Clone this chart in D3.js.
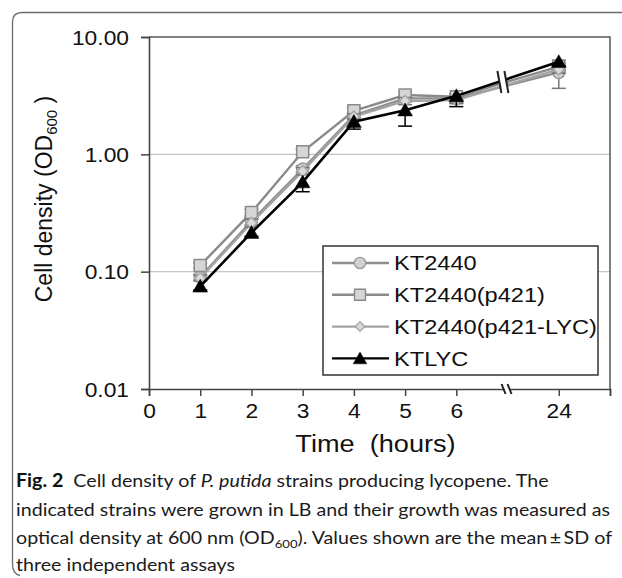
<!DOCTYPE html>
<html><head><meta charset="utf-8">
<script src="https://cdn.jsdelivr.net/npm/d3@7"></script>
<style>body{margin:0;background:#fff} svg{display:block}</style>
</head><body>
<svg id="c" width="622" height="578"></svg>
<script>
// ---------- data ----------
const times = [1, 2, 3, 4, 5, 6, 24];
const tickTimes = [0, 1, 2, 3, 4, 5, 6, 24];
const tickLabels = ["0", "1", "2", "3", "4", "5", "6", "24"];
const axisSlots = [0, 1, 2, 3, 4, 5, 6, 8];   // broken time axis: 24 h sits in slot 8
const seriesNames = ["KT2440", "KT2440(p421)", "KT2440(p421-LYC)", "KTLYC"];
const kt2440      = [0.090, 0.27, 0.75, 2.15, 3.00, 3.00, 5.00];
const kt2440Sd    = [0.005, 0.02, 0.05, 0.12, 0.20, 0.25, 1.35];
const p421        = [0.113, 0.32, 1.05, 2.35, 3.20, 3.10, 5.60];
const p421Sd      = [0.006, 0.02, 0.06, 0.15, 0.20, 0.20, 0.40];
const p421lyc     = [0.088, 0.26, 0.72, 2.10, 2.85, 2.90, 5.30];
const p421lycSd   = [0.005, 0.02, 0.05, 0.12, 0.20, 0.20, 0.40];
const ktlyc       = [0.075, 0.215, 0.58, 1.90, 2.38, 3.15, 6.15];
const ktlycSd     = [0.005, 0.015, 0.10, 0.26, 0.64, 0.60, 0.45];
const yTicks = [0.01, 0.1, 1, 10];
const gridValues = [0.1, 1];

// ---------- styles ----------
const lineColors   = ["#8f8f8f", "#8a8a8a", "#a3a3a3", "#000000"];
const markerFill   = ["#d2d2d2", "#d6d6d6", "#dadada", "#000000"];
const markerStroke = ["#9a9a9a", "#8a8a8a", "#a8a8a8", "#000000"];
const markerType   = [d3.symbolCircle, d3.symbolSquare, d3.symbolSquare, d3.symbolTriangle];
const markerSize   = [115, 144, 60, 95];
const markerRot    = [0, 0, 45, 0];
const upperBars    = [true, true, true, false];
const values = [kt2440, p421, p421lyc, ktlyc];
const sds = [kt2440Sd, p421Sd, p421lycSd, ktlycSd];

const svg = d3.select("#c");
const STRETCH = 1.14;
function stretch(sel, k) {
  sel.each(function () {
    const L = this.getComputedTextLength();
    this.setAttribute("textLength", L * k);
    this.setAttribute("lengthAdjust", "spacingAndGlyphs");
  });
}

// figure frame
svg.append("path")
  .attr("d", "M622,12.5 H22 Q12.5,12.5 12.5,22 V564 Q12.5,574 20,575.5")
  .attr("fill", "none").attr("stroke", "#6a6a6a").attr("stroke-width", 1.3);

const x = d3.scaleLinear().domain([0, 9]).range([149, 610]);
const y = d3.scaleLog().domain([0.01, 10]).range([389, 37]);
const slotOf = t => axisSlots[tickTimes.indexOf(t)];
const px = t => x(slotOf(t));

// grid
svg.append("g").selectAll("line").data(gridValues).join("line")
  .attr("x1", x(0)).attr("x2", x(9))
  .attr("y1", d => y(d)).attr("y2", d => y(d))
  .attr("stroke", "#c4c4c4").attr("stroke-width", 1.3);

// top / right frame of plot
svg.append("path")
  .attr("d", `M${x(0)},${y(10)} H${x(9)} V${y(0.01)}`)
  .attr("fill", "none").attr("stroke", "#555").attr("stroke-width", 1.5);

// axes
const yAxis = svg.append("g").attr("transform", `translate(${x(0)},0)`)
  .call(d3.axisLeft(y).tickValues(yTicks).tickFormat(d3.format(".2f")).tickSize(8).tickPadding(12));
const xAxis = svg.append("g").attr("transform", `translate(0,${y(0.01)})`)
  .call(d3.axisBottom(x).tickValues(axisSlots.concat([9]))
    .tickFormat(s => { const i = axisSlots.indexOf(s); return i >= 0 ? tickLabels[i] : ""; })
    .tickSize(7).tickPadding(8));
[yAxis, xAxis].forEach(a => {
  a.select(".domain").attr("stroke", "#444").attr("stroke-width", 1.6);
  a.selectAll(".tick line").attr("stroke", "#444").attr("stroke-width", 1.5);
  a.selectAll("text").attr("font-family", "Liberation Sans, Arial, sans-serif")
    .attr("font-size", 20).attr("fill", "#111");
});
yAxis.selectAll("text").attr("dy", "0.36em");
stretch(yAxis.selectAll("text"), STRETCH);
stretch(xAxis.selectAll("text"), STRETCH);

// axis break marks on x axis
const axBx = x(7);
svg.append("rect").attr("x", axBx - 3).attr("y", y(0.01) - 2).attr("width", 5).attr("height", 4).attr("fill", "#fff");
[-4, 2].forEach(o => svg.append("line")
  .attr("x1", axBx + o - 2).attr("y1", y(0.01) - 5).attr("x2", axBx + o + 2).attr("y2", y(0.01) + 5)
  .attr("stroke", "#222").attr("stroke-width", 2));

// axis titles
const yt = svg.append("text")
  .attr("transform", `translate(52,${(y(10) + y(0.01)) / 2 - 14}) rotate(-90)`)
  .attr("text-anchor", "middle").attr("font-family", "Liberation Sans, Arial, sans-serif")
  .attr("font-size", 23).attr("fill", "#111");
yt.append("tspan").text("Cell density (OD");
yt.append("tspan").attr("font-size", 15).attr("dy", 5).text("600");
yt.append("tspan").attr("dy", -5).text(" )");

const xt = svg.append("text").attr("x", (x(0) + x(9)) / 2 - 4).attr("y", 452)
  .attr("text-anchor", "middle").attr("font-family", "Liberation Sans, Arial, sans-serif")
  .attr("font-size", 23).attr("fill", "#111").attr("xml:space", "preserve").text("Time  (hours)");
stretch(xt, 1.18);

// series
const plot = svg.append("g");
const line = d3.line().x(d => px(d.t)).y(d => y(d.v));
values.forEach((vals, s) => {
  const pts = times.map((t, i) => ({ t, v: vals[i], sd: sds[s][i] }));
  const g = plot.append("g");
  g.append("path").datum(pts).attr("d", line).attr("fill", "none")
    .attr("stroke", lineColors[s]).attr("stroke-width", s === 3 ? 2.6 : 2.4);
  // error bars
  const eb = g.append("g").attr("stroke", s === 3 ? "#000" : "#777").attr("stroke-width", 1.5);
  pts.forEach(p => {
    const lo = y(p.v - p.sd), hi = upperBars[s] ? y(p.v + p.sd) : y(p.v), cx = px(p.t);
    eb.append("line").attr("x1", cx).attr("x2", cx).attr("y1", lo).attr("y2", hi);
    eb.append("line").attr("x1", cx - 7).attr("x2", cx + 7).attr("y1", lo).attr("y2", lo);
    if (upperBars[s]) eb.append("line").attr("x1", cx - 7).attr("x2", cx + 7).attr("y1", hi).attr("y2", hi);
  });
  g.selectAll("path.m").data(pts).join("path").attr("class", "m")
    .attr("d", d3.symbol(markerType[s], markerSize[s]))
    .attr("transform", d => `translate(${px(d.t)},${y(d.v) + (s === 3 ? 1.5 : 0)}) rotate(${markerRot[s]})`)
    .attr("fill", markerFill[s]).attr("stroke", markerStroke[s]).attr("stroke-width", s === 3 ? 0.5 : 1.5);
});

// break marks across the lines between 6 h and 24 h
const lb = x(6.88);
svg.append("path")
  .attr("d", `M${lb - 4},71 L${lb + 3},71 L${lb + 7},93 L${lb},93 Z`).attr("fill", "#fff");
[[-4, 0], [3, 7]].forEach(([a, b]) => svg.append("line")
  .attr("x1", lb + a).attr("y1", 71).attr("x2", lb + b).attr("y2", 93)
  .attr("stroke", "#222").attr("stroke-width", 2));

// legend
const lg = svg.append("g");
lg.append("rect").attr("x", 323).attr("y", 246).attr("width", 275).attr("height", 129)
  .attr("fill", "#fff").attr("stroke", "#333").attr("stroke-width", 1.5);
const legendMarkerSize = [100, 120, 45, 80];
seriesNames.forEach((n, s) => {
  const cy = 263 + s * 31.8;
  lg.append("line").attr("x1", 332).attr("x2", 389).attr("y1", cy).attr("y2", cy)
    .attr("stroke", lineColors[s]).attr("stroke-width", 2.4);
  lg.append("path").attr("d", d3.symbol(markerType[s], legendMarkerSize[s]))
    .attr("transform", `translate(360,${cy + (s === 3 ? 1.5 : 0)}) rotate(${markerRot[s]})`)
    .attr("fill", markerFill[s]).attr("stroke", markerStroke[s]).attr("stroke-width", s === 3 ? 0.5 : 1.4);
  const t = lg.append("text").attr("x", 394).attr("y", cy).attr("dy", "0.36em")
    .attr("font-family", "Liberation Sans, Arial, sans-serif").attr("font-size", 20)
    .attr("fill", "#111").text(n);
  stretch(t, 1.18);
});

// caption
const cap = svg.append("g").attr("font-family", "Lato, Open Sans, sans-serif").attr("font-size", 18).attr("fill", "#1a1a1a");
const l1 = cap.append("text").attr("x", 16).attr("y", 487).attr("xml:space", "preserve");
l1.append("tspan").attr("font-weight", "bold").attr("fill", "#111").text("Fig. 2");
l1.append("tspan").text("  Cell density of ");
l1.append("tspan").attr("font-style", "italic").text("P. putida");
l1.append("tspan").text(" strains producing lycopene. The");
const l2 = cap.append("text").attr("x", 16).attr("y", 516)
  .text("indicated strains were grown in LB and their growth was measured as");
const l3 = cap.append("text").attr("x", 16).attr("y", 544);
l3.append("tspan").text("optical density at 600 nm (OD");
l3.append("tspan").attr("font-size", 12).attr("dy", 4).text("600");
l3.append("tspan").attr("dy", -4).text("). Values shown are the mean\u2009\u00b1\u2009SD of");
const l4 = cap.append("text").attr("x", 16).attr("y", 571).text("three independent assays");
const k = 594 / l2.node().getComputedTextLength();
stretch(cap.selectAll("text"), k);
</script>
</body></html>
